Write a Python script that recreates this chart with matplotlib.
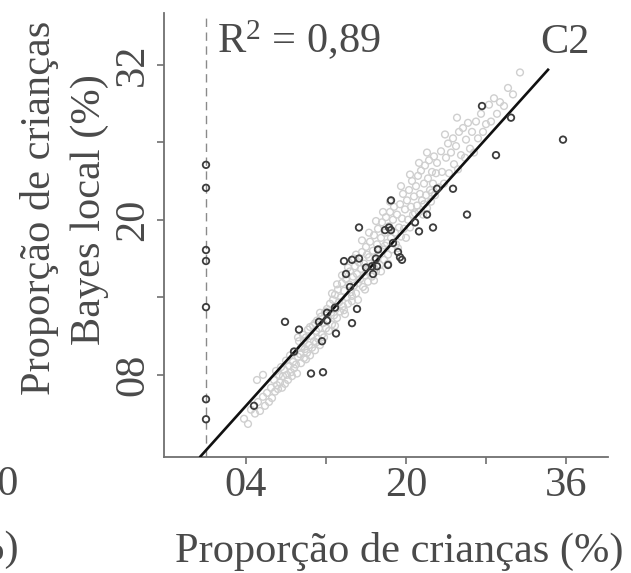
import matplotlib
matplotlib.use("Agg")
import matplotlib.pyplot as plt

plt.rcParams["font.family"] = ["Liberation Serif", "DejaVu Serif"]
plt.rcParams["mathtext.fontset"] = "custom"
plt.rcParams["mathtext.rm"] = "Liberation Serif"
plt.rcParams["mathtext.it"] = "Liberation Serif:italic"

# observed zero proportion (on the dashed line)
zero_y = [24.25, 22.47, 17.66, 16.81, 13.24, 6.11, 4.56]

# highlighted (dark) areas
dark_x = [27.6, 30.5, 35.7, 29.0, 24.7, 23.1, 18.5, 26.1, 22.1, 15.3, 18.3, 17.9,
          18.5, 20.9, 21.3, 22.7, 18.7, 17.2, 19.2, 19.4, 19.6, 13.8, 14.6, 15.3,
          17.0, 16.0, 16.6, 17.1, 18.2, 14.0, 16.7, 14.4, 12.9, 15.1, 12.1, 12.1,
          11.3, 7.9, 9.3, 14.6, 13.0, 11.6, 8.8, 10.5, 11.7, 4.8]
dark_y = [28.8, 27.9, 26.2, 25.0, 22.4, 22.4, 21.5, 20.4, 20.4, 19.4, 19.4, 19.2,
          19.2, 19.8, 19.1, 19.4, 18.2, 17.7, 17.5, 17.1, 16.9, 16.8, 16.9, 17.0,
          17.0, 16.3, 16.4, 16.4, 16.5, 15.8, 15.8, 14.8, 13.2, 13.1, 12.8, 12.2,
          12.1, 12.1, 11.5, 12.0, 11.2, 10.6, 9.8, 8.1, 8.2, 5.6]

# remaining areas (light grey cloud)
grey_pts = [
    (3.8, 4.6), (4.2, 4.2), (4.5, 5.3), (4.9, 5.0), (5.2, 5.9), (5.4, 5.2), (5.7, 6.3),
    (5.9, 5.6), (6.1, 6.6), (6.3, 5.9), (6.5, 7.0), (6.6, 6.2), (5.1, 7.6), (5.7, 8.0),
    (6.8, 7.6), (6.9, 6.7), (7.0, 8.3), (7.1, 7.2), (7.2, 6.9), (7.3, 8.0), (7.4, 7.4),
    (7.5, 8.6), (7.6, 7.0), (7.7, 7.9), (7.8, 8.4), (7.9, 7.3), (8.0, 9.1), (8.1, 8.0),
    (8.2, 7.6), (8.3, 8.7), (8.4, 9.5), (8.5, 8.2), (8.6, 7.9), (8.7, 9.0), (8.8, 8.5),
    (8.9, 9.8), (9.0, 8.8), (9.1, 8.1), (9.2, 9.4),
    (9.3, 10.6), (9.4, 9.6), (9.5, 8.9), (9.6, 10.2), (9.7, 11.1), (9.8, 9.3), (9.9, 10.0),
    (10.0, 10.9), (10.1, 9.7), (10.2, 11.5), (10.3, 10.3), (10.4, 9.5), (10.5, 11.0),
    (10.6, 10.1), (10.7, 11.8), (10.8, 10.6), (10.9, 9.9), (11.0, 11.4), (11.1, 12.2),
    (11.2, 10.8), (11.3, 11.6), (11.4, 10.3), (11.5, 12.5), (11.6, 11.1), (11.7, 12.0),
    (11.8, 10.9), (11.9, 12.8), (12.0, 11.6), (12.1, 13.1), (12.2, 12.3), (9.2, 10.9),
    (9.8, 10.6), (10.4, 11.7), (10.9, 12.0), (11.4, 12.8), (12.0, 12.9), (11.0, 10.5),
    (10.0, 9.2), (12.3, 11.4), (9.5, 10.1),
    (12.4, 13.5), (12.5, 12.8), (12.6, 11.9), (12.7, 13.8), (12.8, 12.6), (12.9, 14.2),
    (13.0, 13.1), (13.1, 12.4), (13.2, 14.6), (13.3, 13.6), (13.4, 12.9), (13.5, 14.0),
    (13.6, 15.1), (13.7, 13.3), (13.8, 14.5), (13.9, 12.7), (14.0, 15.4), (14.1, 14.0),
    (14.2, 13.5), (14.3, 15.0), (14.4, 16.0), (14.5, 14.4), (14.6, 13.7), (14.7, 15.6),
    (14.8, 14.9), (14.9, 16.4), (15.0, 14.3), (15.1, 15.8), (15.2, 13.8), (15.3, 16.7),
    (12.6, 14.3), (13.1, 15.0), (13.6, 15.7), (14.2, 16.3), (14.8, 17.0), (12.9, 11.8),
    (13.8, 13.0), (14.6, 14.1), (15.0, 17.3), (15.2, 15.1),
    (15.4, 15.4), (15.5, 16.2), (15.6, 17.5), (15.7, 14.8), (15.8, 16.6), (15.9, 15.7),
    (16.0, 17.9), (16.1, 16.0), (16.2, 15.2), (16.3, 17.1), (16.4, 18.3), (16.5, 16.4),
    (16.6, 15.6), (16.7, 17.6), (16.8, 18.8), (16.9, 16.9), (17.0, 16.0), (17.1, 18.1),
    (17.2, 19.3), (17.3, 17.3), (17.4, 16.5), (17.5, 18.6), (17.6, 19.8), (17.7, 17.7),
    (17.8, 16.9), (17.9, 19.0), (18.0, 20.2), (18.1, 18.2), (18.2, 17.3), (18.3, 19.5),
    (18.4, 20.6), (18.5, 18.6), (18.6, 17.7), (18.7, 20.0), (18.8, 21.0), (18.9, 19.0),
    (19.0, 18.1), (15.6, 18.4), (16.3, 19.0), (17.0, 19.9), (17.7, 20.6), (18.4, 21.4),
    (15.9, 14.6), (16.8, 15.3), (17.5, 16.0), (18.2, 16.6), (19.1, 20.4), (19.2, 17.8),
    (16.1, 17.3), (17.9, 18.0),
    (19.3, 19.4), (19.4, 21.2), (19.5, 18.7), (19.6, 20.1), (19.7, 22.0), (19.8, 19.3),
    (19.9, 20.8), (20.0, 18.6), (20.1, 21.5), (20.2, 20.0), (20.3, 22.3), (20.4, 19.4),
    (20.5, 21.0), (20.6, 23.0), (20.7, 20.4), (20.8, 21.8), (20.9, 19.8), (21.0, 22.6),
    (21.1, 21.1), (21.2, 23.4), (21.3, 20.6), (21.4, 22.0), (21.5, 23.8), (21.6, 21.5),
    (21.7, 20.4), (21.8, 22.8), (21.9, 24.2), (22.0, 21.9), (22.1, 20.9), (22.2, 23.2),
    (22.3, 24.6), (22.4, 22.3), (22.5, 21.4), (22.6, 23.7), (22.7, 22.8), (22.8, 24.9),
    (22.9, 21.9), (23.0, 23.6), (19.5, 22.6), (20.4, 23.5), (21.3, 24.4), (22.1, 25.2),
    (20.9, 20.5), (21.8, 21.2), (22.6, 22.1),
    (23.1, 24.4), (23.3, 22.5), (23.5, 25.3), (23.6, 23.7), (23.8, 22.8), (24.0, 24.8),
    (24.2, 25.9), (24.3, 23.6), (24.5, 25.2), (24.7, 26.3), (24.8, 24.3), (25.0, 25.7),
    (25.2, 23.9), (25.3, 26.8), (25.5, 25.0), (25.7, 27.1), (25.9, 24.8), (26.0, 26.2),
    (26.2, 27.5), (26.4, 25.5), (26.6, 26.8), (26.8, 25.2), (27.0, 27.6), (27.2, 26.3),
    (27.5, 28.2), (27.7, 26.8), (28.0, 27.4), (28.3, 28.9), (23.9, 26.6), (25.1, 27.9),
    (28.5, 27.6), (28.8, 29.4), (29.1, 28.2), (29.4, 29.1), (29.8, 28.8), (30.2, 30.2),
    (30.7, 29.7), (31.4, 31.4),
]
grey_x = [p[0] for p in grey_pts]
grey_y = [p[1] for p in grey_pts]

# fitted line
fit_intercept = 2.16
fit_slope = 0.861
fit_range = [-0.55, 34.2]

xticks = [4, 12, 20, 28, 36]
xtick_labels = ["04", "", "20", "", "36"]
yticks = [8, 14, 20, 26, 32]
ytick_labels = ["08", "", "20", "", "32"]

W, H = 631, 573
FS = 30.5
fig = plt.figure(figsize=(W / 100, H / 100), dpi=100)
ax = fig.add_axes([164 / W, (H - 457) / H, (608 - 164) / W, (457 - 13) / H])

grey_txt = "#4a4a4a"
spine_c = "#707070"

ax.axvline(0, color="#8a8a8a", lw=1.0, ls=(0, (6, 4)), zorder=1)
ax.scatter(grey_x, grey_y, s=24, facecolors="none", edgecolors="#cfcfcf", linewidths=1.0, zorder=2)
ax.scatter(dark_x, dark_y, s=22, facecolors="none", edgecolors="#3c3c3c", linewidths=1.3, zorder=4)
ax.scatter([0] * len(zero_y), zero_y, s=22, facecolors="none", edgecolors="#3c3c3c", linewidths=1.3, zorder=4)
ax.plot(fit_range, [fit_intercept + fit_slope * v for v in fit_range], color="#111111", lw=1.9, zorder=3)

ax.set_xlim(-4.2, 40.2)
ax.set_ylim(1.64, 36.0)
ax.spines["top"].set_visible(False)
ax.spines["right"].set_visible(False)
for s in ("left", "bottom"):
    ax.spines[s].set_color(spine_c)
    ax.spines[s].set_linewidth(1.3)

ax.set_xticks(xticks)
ax.set_xticklabels(xtick_labels)
ax.set_yticks(yticks)
ax.set_yticklabels(ytick_labels, rotation=90, va="center")
ax.tick_params(axis="both", direction="out", length=5, width=1.2, color=spine_c,
               labelcolor=grey_txt, labelsize=FS)
ax.tick_params(axis="x", pad=1.5)
ax.tick_params(axis="y", pad=3.5)

fig.text(217 / W, 1 - 53 / H, r"R$^{2}$ = 0,89", fontsize=FS, color=grey_txt,
         ha="left", va="baseline")
fig.text(590 / W, 1 - 53 / H, "C2", fontsize=FS, color=grey_txt, ha="right", va="baseline")

fig.text(399 / W, 1 - 562 / H, "Proporção de crianças (%)", fontsize=FS, color=grey_txt,
         ha="center", va="baseline")
fig.text(50 / W, 1 - 208 / H, "Proporção de crianças", fontsize=FS, color=grey_txt,
         ha="center", va="baseline", rotation=90, rotation_mode="anchor")
fig.text(100 / W, 1 - 210 / H, "Bayes local (%)", fontsize=FS, color=grey_txt,
         ha="center", va="baseline", rotation=90, rotation_mode="anchor")

# pieces of the neighbouring panel cut by the frame
fig.text(19 / W, 1 - 495 / H, "20", fontsize=FS, color=grey_txt, ha="right", va="baseline")
fig.text(19 / W, 1 - 560 / H, "(%)", fontsize=FS, color=grey_txt, ha="right", va="baseline")

fig.savefig("out.png", dpi=100)
